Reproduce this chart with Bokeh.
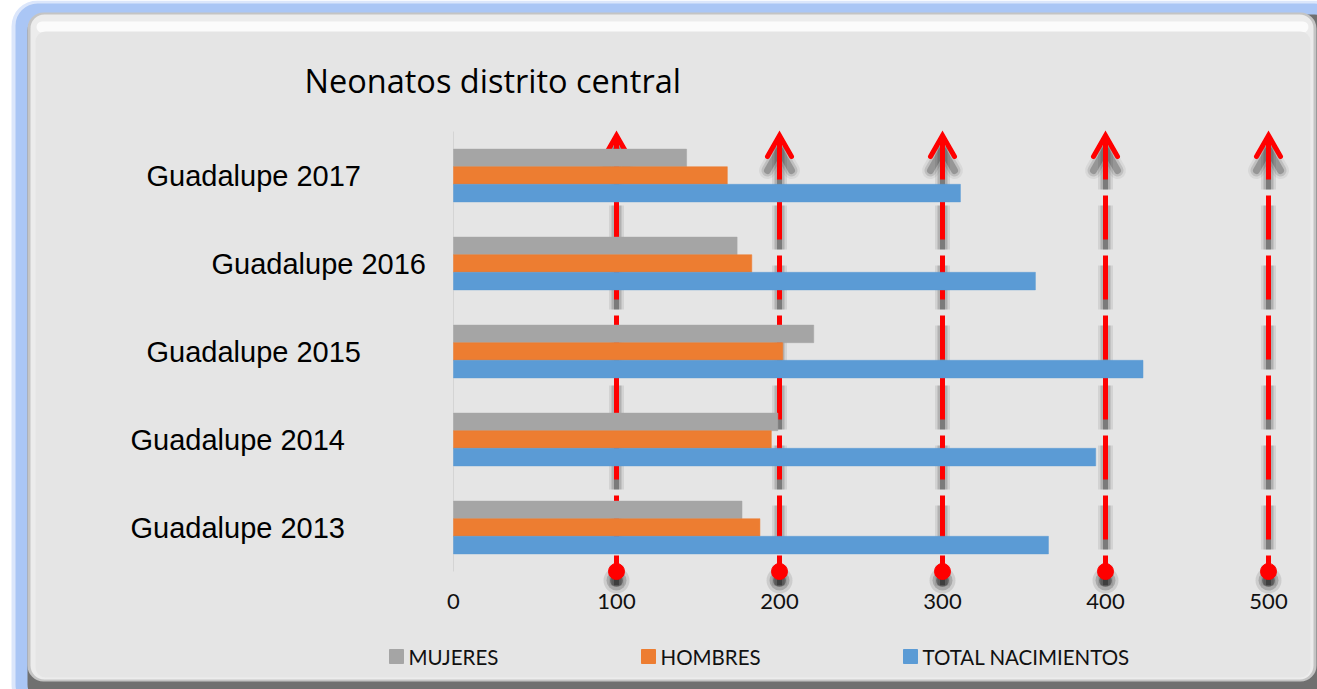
from bokeh.plotting import figure
from bokeh.models import Range1d, BoxAnnotation, ColumnDataSource
from bokeh.transform import dodge
from bokeh.core.properties import value
from bokeh.embed import file_html
from bokeh.resources import INLINE

# ---------------- data ----------------
categories = ["Guadalupe 2013", "Guadalupe 2014", "Guadalupe 2015", "Guadalupe 2016", "Guadalupe 2017"]
mujeres = [177, 199, 221, 174, 143]
hombres = [188, 195, 202, 183, 168]
total = [365, 394, 423, 357, 311]
series_names = ["MUJERES", "HOMBRES", "TOTAL NACIMIENTOS"]
series_colors = ["#a5a5a5", "#ed7d31", "#5b9bd5"]
x_ticks = [0, 100, 200, 300, 400, 500]
title_text = "Neonatos distrito central"

# ---------------- layout helpers (pixels -> data units) ----------------
W, H = 1317, 689
PX_PER_UNIT = 1.63      # horizontal pixels per value unit
PX_PER_CAT = 88.0       # vertical pixels per category
X0_PX = 453             # x pixel of value 0
Y0_PX = 527             # y pixel of first category centre


def xd(X):
    return (X - X0_PX) / PX_PER_UNIT


def yd(Y):
    return (Y0_PX - Y) / PX_PER_CAT


def dxp(px):
    return px / PX_PER_UNIT


def dyp(px):
    return px / PX_PER_CAT


p = figure(width=W, height=H, output_backend="svg", toolbar_location=None,
           x_range=Range1d(xd(0), xd(W)), y_range=Range1d(yd(H), yd(0)),
           x_axis_type=None, y_axis_type=None, min_border=0,
           background_fill_color="white", border_fill_color="white")
p.outline_line_color = None
p.grid.visible = False

# ---------------- frame decoration ----------------
boxes = [
    (11, 1340, 0, 710, "#dbe6fb", 26),
    (15, 1336, 3, 706, "#aac6f5", 22),
    (27, 1330, 14, 700, "#707070", 16),
    (27, 1316, 12, 681, "#c4c4c4", 16),
    (30, 1313, 14, 679, "#ececec", 14),
    (36, 1308, 21, 32, "#fbfbfb", 6),
    (35, 1310, 31, 677, "#e5e5e5", 10),
]
for l, r, t, b, c, rad in boxes:
    p.add_layout(BoxAnnotation(left=xd(l), right=xd(r), top=yd(t), bottom=yd(b),
                               fill_color=c, fill_alpha=1, line_color=None,
                               border_radius=rad, level="image"))

n = len(categories)
idx = list(range(n))
top = n - 0.5
bottom = -0.5

# value axis line
p.segment(x0=[0], y0=[bottom], x1=[0], y1=[top], line_color="#d4d4d4", line_width=1)

# ---------------- arrows (behind bars) ----------------
arrow_x = [t for t in x_ticks if t > 0]
m = len(arrow_x)
sh = dyp(14)
head_dx = dxp(12)
head_dy = dyp(21)
tip_adj = dyp(4)
head_xs = [[x - head_dx, x, x + head_dx] for x in arrow_x]
head_ys = [[top - tip_adj - head_dy, top - tip_adj, top - tip_adj - head_dy] for _ in arrow_x]
head_ys_sh = [[v - sh for v in ys] for ys in head_ys]

for w, a in [(15, 0.08), (10, 0.16), (5, 0.3)]:
    p.segment(x0=arrow_x, y0=[top - sh] * m, x1=arrow_x, y1=[bottom - sh] * m,
              line_color="black", line_alpha=a, line_width=w, line_dash="44 16")
    p.multi_line(xs=head_xs, ys=head_ys_sh, line_color="black", line_alpha=a * 0.7,
                 line_width=w + 2, line_cap="round")
for s, a in [(26, 0.1), (20, 0.18), (13, 0.3)]:
    p.scatter(x=arrow_x, y=[bottom - dyp(9)] * m, size=s, color="black", alpha=a, line_color=None)

p.segment(x0=arrow_x, y0=[top - tip_adj] * m, x1=arrow_x, y1=[bottom] * m,
          line_color="#ff0000", line_width=5, line_dash="44 16")
p.multi_line(xs=head_xs, ys=head_ys, line_color="#ff0000", line_width=5,
             line_cap="round", line_join="miter")
p.scatter(x=arrow_x, y=[bottom] * m, size=16, color="#ff0000")

# ---------------- bars ----------------
src = ColumnDataSource(dict(idx=idx, mujeres=mujeres, hombres=hombres, total=total))
bar_h = 0.2
for field, off, col in [("mujeres", 0.2, series_colors[0]),
                        ("hombres", 0.0, series_colors[1]),
                        ("total", -0.2, series_colors[2])]:
    p.hbar(y=dodge("idx", off, range=p.y_range), left=0, right=field, height=bar_h,
           source=src, fill_color=col, line_color=col, line_width=0.5)

# ---------------- texts ----------------
label_left_px = [130, 130, 146, 211, 146]
p.text(x=[xd(v) for v in label_left_px], y=idx, text=categories,
       text_font=value("Liberation Sans"), text_font_size="29px",
       text_baseline="middle", text_align="left", text_color="black")

p.text(x=x_ticks, y=[yd(601)] * len(x_ticks), text=[str(t) for t in x_ticks],
       text_font=value("Lato"), text_font_size="22px",
       text_baseline="middle", text_align="center", text_color="#111111")

p.text(x=[xd(304)], y=[yd(80)], text=[title_text],
       text_font=value("Open Sans"), text_font_size="32.5px",
       text_baseline="middle", text_align="left", text_color="black")

# legend
leg_sq_px = [396, 648, 910]
leg_y = yd(656)
p.scatter(x=[xd(v) for v in leg_sq_px], y=[leg_y] * 3, marker="square", size=14,
          color=series_colors)
p.text(x=[xd(v + 12) for v in leg_sq_px], y=[leg_y] * 3, text=series_names,
       text_font=value("Lato"), text_font_size="20.5px",
       text_baseline="middle", text_align="left", text_color="#111111")

open("out.html", "w").write(file_html(p, INLINE))
